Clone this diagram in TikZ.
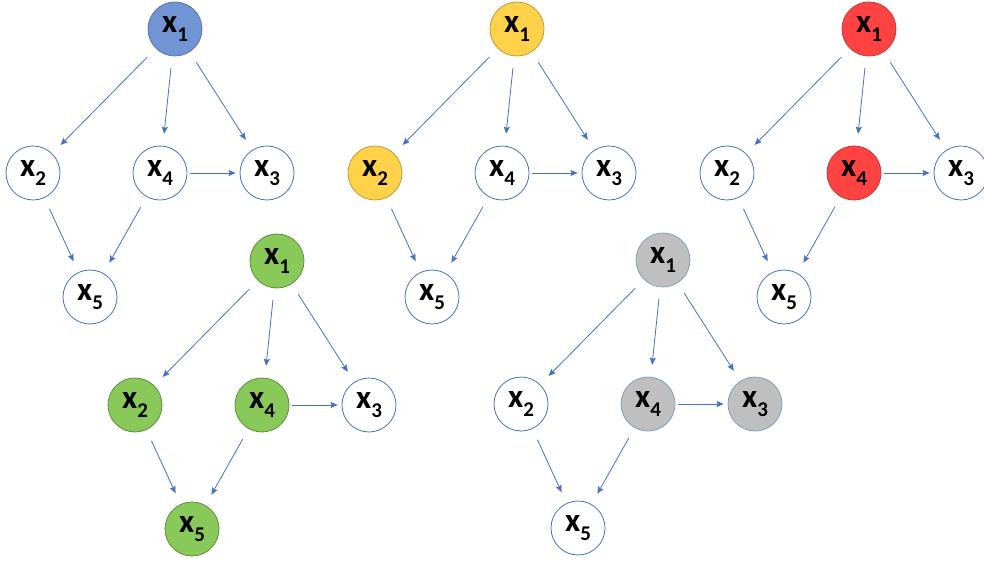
\documentclass[tikz,border=0pt]{standalone}
\usepackage{fontspec}
\setmainfont{Carlito}
\usetikzlibrary{arrows.meta}
\definecolor{edgeblue}{HTML}{4472C4}
\definecolor{nodeblue}{HTML}{7094D4}
\definecolor{nodeyellow}{HTML}{FFD24A}
\definecolor{nodered}{HTML}{FF4242}
\definecolor{nodegreen}{HTML}{88C95A}
\definecolor{nodegrey}{HTML}{BFBFBF}
\tikzset{
  var/.style={circle,draw=edgeblue,line width=0.8pt,fill=white,minimum size=54pt,inner sep=0pt,
    font=\fontsize{33}{33}\selectfont\bfseries},
  plain/.style={},
  blueon/.style={fill=nodeblue,draw=nodeblue!80!black},
  yellowon/.style={fill=nodeyellow,draw=nodeyellow!75!black},
  redon/.style={fill=nodered,draw=nodered!80!black},
  greenon/.style={fill=nodegreen,draw=nodegreen!70!black},
  greyon/.style={fill=nodegrey,draw=edgeblue!45!nodegrey},
  link/.style={-{Stealth[length=7pt,width=6pt,inset=1pt]},draw=edgeblue,line width=0.8pt,
    shorten <=12pt,shorten >=12pt},
  sidelink/.style={link,shorten <=3pt,shorten >=4pt},
}
\newcommand{\xvar}[1]{x\raisebox{-0.28em}{\fontsize{21}{21}\selectfont #1}}
\begin{document}
\begin{tikzpicture}[x=1pt,y=-1pt]
\useasboundingbox (0,0) rectangle (984,561);
% one graph per entry: name / x1 position / fills of x1,x2,x4,x3,x5
\foreach \g/\px/\py/\ca/\cb/\cd/\cc/\ce in {
  a/175/29/blueon/plain/plain/plain/plain,
  b/517/29/yellowon/yellowon/plain/plain/plain,
  c/869/29/redon/plain/redon/plain/plain,
  d/277/261/greenon/greenon/greenon/plain/greenon,
  e/663/260/greyon/plain/greyon/greyon/plain}
{
  \node[var,\ca] (\g1) at (\px,\py) {\xvar{1}};
  \node[var,\cb] (\g2) at (\px-142,\py+144) {\xvar{2}};
  \node[var,\cd] (\g4) at (\px-15,\py+144) {\xvar{4}};
  \node[var,\cc] (\g3) at (\px+92,\py+144) {\xvar{3}};
  \node[var,\ce] (\g5) at (\px-85,\py+268) {\xvar{5}};
  \draw[link] (\g1) -- (\g2);
  \draw[link] (\g1) -- (\g4);
  \draw[link] (\g1) -- (\g3);
  \draw[sidelink] (\g4) -- (\g3);
  \draw[link] (\g2) -- (\g5);
  \draw[link] (\g4) -- (\g5);
}
\end{tikzpicture}
\end{document}
